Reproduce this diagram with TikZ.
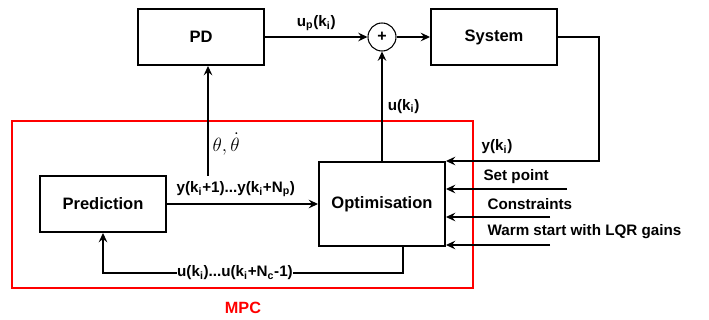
\documentclass[tikz,border=0pt]{standalone}
\usepackage{fontspec}
\setmainfont{Liberation Sans}
\usepackage{xcolor}
\usetikzlibrary{arrows.meta}
\usetikzlibrary{calc}
\definecolor{mpcred}{RGB}{255,0,0}

\tikzset{
  block/.style={draw,line width=1.5pt,minimum width=94.5pt,minimum height=42pt,font=\fontsize{12.4}{14}\selectfont\bfseries},
  lbl/.style={font=\fontsize{11.4}{13}\selectfont\bfseries,inner sep=1pt},
  conn/.style={-{Stealth[length=7pt,width=6.5pt,inset=2.5pt]},line width=0.8pt},
}

\begin{document}
\begin{tikzpicture}[x=0.75pt,y=-0.75pt]
\useasboundingbox (0,0) rectangle (709,320);

% top row
\node[block] (pd) at (201,37) {PD};
\node[draw,circle,line width=0.8pt,minimum size=21pt,inner sep=0pt,font=\fontsize{12}{14}\selectfont\bfseries] (sum) at (382,37) {+};
\node[block] (sys) at (494,37) {System};

% MPC
\draw[color=mpcred,line width=0.8pt] (12,121) rectangle (473,288);
\node[font=\fontsize{12.2}{14}\selectfont\bfseries,text=mpcred] (mpc) at (243,308) {MPC};

\node[block] (pred) at (103,204) {Prediction};
\node[block,minimum height=63pt] (opt) at (382,204) {Optimisation};

% forward path
\draw[conn] (pd.east) -- (sum.west) node[lbl,midway,above=3pt] {u\textsubscript{p}(k\textsubscript{i})};
\draw[conn] (sum.east) -- (sys.west);
\draw[conn] (opt.north) -- (sum.south) node[lbl,pos=0.5,right=3pt] {u(k\textsubscript{i})};

% feedback
\coordinate (fb) at (599,37);
\draw[conn] (sys.east) -- (fb) -- (fb |- opt.north east) -- (opt.north east);
\node[lbl] (yk) at (497,147) {y(k\textsubscript{i})};

% external inputs
\coordinate (sp) at (567,189);
\coordinate (cs) at (550,217);
\coordinate (ws) at (550,245);
\draw[conn] (sp) -- (sp -| opt.east);
\draw[conn] (cs) -- (cs -| opt.east);
\draw[conn] (ws) -- (ws -| opt.east);
\node[lbl,anchor=west] (sptext) at (482,177) {Set point};
\node[lbl,anchor=west] (cstext) at (486,204) {Constraints};
\node[lbl,anchor=west] (wstext) at (486,232) {Warm start with LQR gains};

% inside MPC
\draw[conn] (pred.east) -- (opt.west) node[lbl,midway,above=4pt,xshift=-5pt] {y(k\textsubscript{i}+1)...y(k\textsubscript{i}+N\textsubscript{p})};
\coordinate (th) at (208,176);
\draw[conn] (th) -- (th |- pd.south);
\node[anchor=west,font=\fontsize{14}{16}\selectfont,inner sep=1pt] (thtext) at (211,144) {$\theta,\dot{\theta}$};
\coordinate (uo) at ($(opt.south)+(21,0)$);
\coordinate (ub) at (403,273);
\draw[conn] (uo) -- (ub) -- (ub -| pred.south) -- (pred.south);
\node[lbl,fill=white,inner sep=0.5pt] (useq) at (235,273) {u(k\textsubscript{i})...u(k\textsubscript{i}+N\textsubscript{c}-1)};

\end{tikzpicture}
\end{document}
